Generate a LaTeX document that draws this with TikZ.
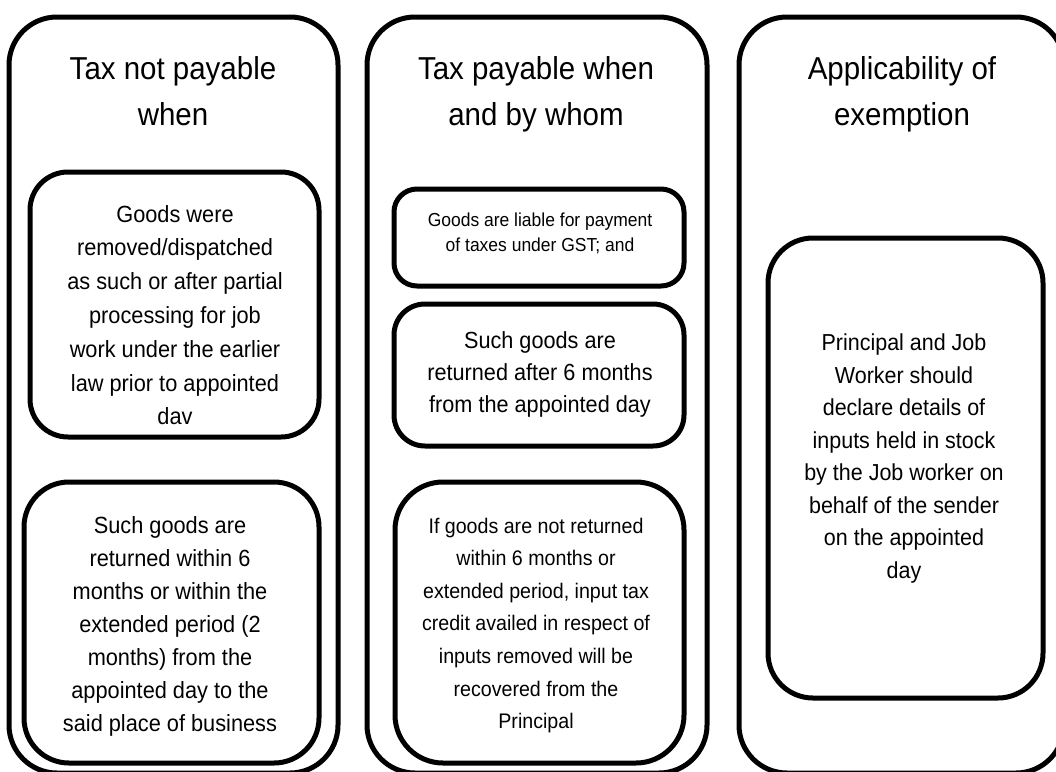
\documentclass[tikz,border=0pt]{standalone}
\usepackage{fontspec}
\setmainfont[FakeStretch=0.93]{Liberation Sans}
\begin{document}
\begin{tikzpicture}[x=1pt,y=-1pt,
  box/.style={draw=black, line width=5pt, inner sep=0pt, outer sep=0pt},
  ttl/.style={anchor=north, inner sep=0pt, align=center, font=\fontsize{31.7}{46}\selectfont},
  txt/.style={anchor=north, inner sep=0pt, align=center}]
\useasboundingbox (0,0) rectangle (1056,771);
\fill[white] (0,0) rectangle (1056,771);
\clip (0,0) rectangle (1056,771);
% outer columns
\node[box, rounded corners=48pt, minimum width=329pt, minimum height=756pt] (lo) at (173.5,395) {};
\node[box, rounded corners=48pt, minimum width=340pt, minimum height=756pt] (mo) at (537,395) {};
\node[box, rounded corners=48pt, minimum width=325pt, minimum height=756pt] (ro) at (901.5,395) {};
% inner boxes
\node[box, rounded corners=38pt, minimum width=289pt, minimum height=265pt] (l1) at (174.5,304.5) {};
\node[box, rounded corners=45pt, minimum width=295pt, minimum height=281pt] (l2) at (171.5,622.5) {};
\node[box, rounded corners=23pt, minimum width=290pt, minimum height=97pt] (m1) at (539,237.5) {};
\node[box, rounded corners=31pt, minimum width=290pt, minimum height=142pt] (m2) at (539,375) {};
\node[box, rounded corners=48pt, minimum width=289pt, minimum height=281pt] (m3) at (539.5,622.5) {};
\node[box, rounded corners=45pt, minimum width=275pt, minimum height=460pt] (r1) at (905.5,468) {};
% titles
\node[ttl] (lt) at (173,56) {Tax not payable\\when};
\node[ttl] (mt) at (536,56) {Tax payable when\\and by whom};
\node[ttl] (rt) at (902,56) {Applicability of\\exemption};
% texts
\node[txt, font=\fontsize{23.4}{33.8}\selectfont] (l1t) at (175,205) {Goods were\\removed/dispatched\\as such or after partial\\processing for job\\work under the earlier\\law prior to appointed\\dav};
\node[txt, font=\fontsize{23.4}{33}\selectfont] (l2t) at (170,516) {Such goods are\\returned within 6\\months or within the\\extended period (2\\months) from the\\appointed day to the\\said place of business};
\node[txt, font=\fontsize{18.8}{25}\selectfont] (m1t) at (540,213) {Goods are liable for payment\\of taxes under GST; and};
\node[txt, font=\fontsize{23.3}{32.3}\selectfont] (m2t) at (540,331) {Such goods are\\returned after 6 months\\from the appointed day};
\node[txt, font=\fontsize{21.1}{32.6}\selectfont] (m3t) at (536,517.5) {If goods are not returned\\within 6 months or\\extended period, input tax\\credit availed in respect of\\inputs removed will be\\recovered from the\\Principal};
\node[txt, font=\fontsize{23.1}{32.5}\selectfont] (r1t) at (904,334) {Principal and Job\\Worker should\\declare details of\\inputs held in stock\\by the Job worker on\\behalf of the sender\\on the appointed\\day};
\end{tikzpicture}
\end{document}
